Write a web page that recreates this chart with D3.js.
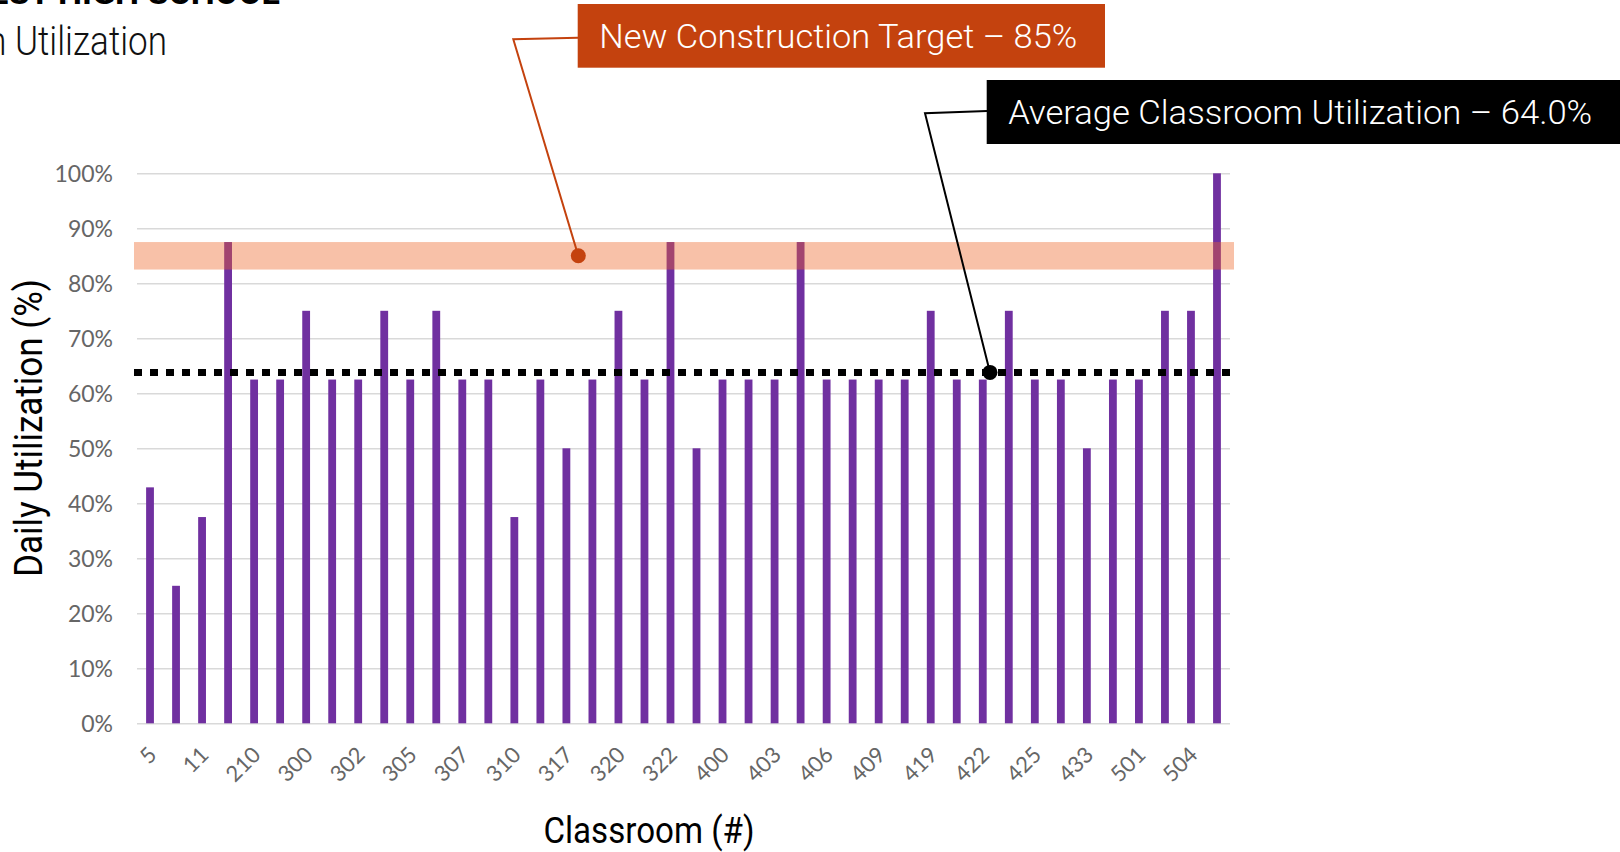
<!DOCTYPE html>
<html>
<head>
<meta charset="utf-8">
<script src="https://cdn.jsdelivr.net/npm/d3@7"></script>
<style>
  html, body { margin: 0; padding: 0; background: #fff; overflow: hidden; }
  svg { display: block; }
  .cond { font-family: Roboto, "DejaVu Sans Condensed", sans-serif; font-weight: 300; }
  .tick text { font-family: Lato, "Open Sans", sans-serif; font-weight: 400; fill: #666; }
</style>
</head>
<body>
<svg id="chart" width="1620" height="852"></svg>
<script>
// ---- data ----
// only every other classroom is labelled on the axis
const rooms = ["5", "", "11", "", "210", "", "300", "", "302", "", "305", "", "307", "", "310", "",
  "317", "", "320", "", "322", "", "400", "", "403", "", "406", "", "409", "", "419", "",
  "422", "", "425", "", "433", "", "501", "", "504", ""];
const utilization = [0.429, 0.25, 0.375, 0.875, 0.625, 0.625, 0.75, 0.625, 0.625, 0.75, 0.625, 0.75,
  0.625, 0.625, 0.375, 0.625, 0.5, 0.625, 0.75, 0.625, 0.875, 0.5, 0.625, 0.625, 0.625, 0.875,
  0.625, 0.625, 0.625, 0.625, 0.75, 0.625, 0.625, 0.75, 0.625, 0.625, 0.5, 0.625, 0.625, 0.75, 0.75, 1.0];
const yTicks = [0, 0.1, 0.2, 0.3, 0.4, 0.5, 0.6, 0.7, 0.8, 0.9, 1.0];
const targetBand = [0.825, 0.875];
const target = 0.85;
const average = 0.638;
const targetLabel = "New Construction Target – 85%";
const averageLabel = "Average Classroom Utilization – 64.0%";

// ---- layout ----
const W = 1620, H = 852;
const plot = { left: 137, right: 1230, top: 173.3, bottom: 723.3 };
const purple = "#7030a0";
const orange = "#c4420e";

const svg = d3.select("#chart");

const x = d3.scaleBand()
  .domain(d3.range(utilization.length))
  .range([plot.left, plot.right])
  .paddingInner(0.7)
  .paddingOuter(0.35);

const y = d3.scaleLinear().domain([0, 1]).range([plot.bottom, plot.top]);

// gridlines + y labels
const yAxis = svg.append("g")
  .attr("transform", `translate(${plot.left},0)`)
  .call(d3.axisLeft(y)
    .tickValues(yTicks)
    .tickFormat(d3.format(".0%"))
    .tickSize(-(plot.right - plot.left))
    .tickPadding(24));
yAxis.select(".domain").remove();
yAxis.selectAll(".tick line").attr("stroke", "#d9d9d9").attr("stroke-width", 1.5);
yAxis.selectAll(".tick text").attr("font-size", 23).attr("dy", "0.36em");

// x labels
const xAxis = svg.append("g")
  .attr("transform", `translate(0,${plot.bottom})`)
  .call(d3.axisBottom(x).tickSize(0).tickFormat(i => rooms[i]));
xAxis.select(".domain").remove();
xAxis.selectAll(".tick text")
  .attr("font-size", 22)
  .attr("text-anchor", "end")
  .attr("y", 0)
  .attr("dy", 0)
  .attr("transform", "translate(8,33) rotate(-45)");

// bars
svg.append("g")
  .selectAll("rect")
  .data(utilization)
  .join("rect")
  .attr("x", (d, i) => x(i))
  .attr("width", x.bandwidth())
  .attr("y", d => y(d))
  .attr("height", d => y(0) - y(d))
  .attr("fill", purple);

// target band
svg.append("rect")
  .attr("x", plot.left - 3)
  .attr("width", plot.right - plot.left + 7)
  .attr("y", y(targetBand[1]))
  .attr("height", y(targetBand[0]) - y(targetBand[1]))
  .attr("fill", "rgb(237,100,38)")
  .attr("fill-opacity", 0.4);

// average line
svg.append("line")
  .attr("x1", plot.left - 3)
  .attr("x2", plot.right + 2)
  .attr("y1", y(average))
  .attr("y2", y(average))
  .attr("stroke", "#000")
  .attr("stroke-width", 7)
  .attr("stroke-dasharray", "8,8");

// titles
svg.append("text").attr("class", "cond")
  .attr("x", 280).attr("y", 4)
  .attr("text-anchor", "end")
  .attr("font-size", 34)
  .style("font-weight", 700)
  .text("WEST HIGH SCHOOL");

const sub = svg.append("text").attr("class", "cond")
  .attr("x", 167).attr("y", 55)
  .attr("text-anchor", "end")
  .attr("font-size", 40).attr("fill", "#111")
  .text("Classroom Utilization");
// stretch so that "Utilization" spans the same width as in the original
{
  const n = sub.node();
  const full = n.getComputedTextLength();
  const tail = n.getSubStringLength(10, 11);
  n.setAttribute("textLength", full * (152 / tail));
  n.setAttribute("lengthAdjust", "spacingAndGlyphs");
}

svg.append("text").attr("class", "cond")
  .attr("transform", `translate(42,428) rotate(-90)`)
  .attr("text-anchor", "middle")
  .attr("font-size", 39)
  .style("font-weight", 400)
  .attr("textLength", 298)
  .attr("lengthAdjust", "spacingAndGlyphs")
  .text("Daily Utilization (%)");

svg.append("text").attr("class", "cond")
  .attr("x", 649).attr("y", 843)
  .attr("text-anchor", "middle")
  .attr("font-size", 36)
  .style("font-weight", 400)
  .attr("textLength", 211)
  .attr("lengthAdjust", "spacingAndGlyphs")
  .text("Classroom (#)");

// annotations: leader line, dot, label box
function callout(color, pts, dot, box, label, len) {
  svg.append("path")
    .attr("d", d3.line()(pts.concat([dot])))
    .attr("fill", "none")
    .attr("stroke", color)
    .attr("stroke-width", 2);
  svg.append("circle")
    .attr("cx", dot[0]).attr("cy", dot[1]).attr("r", 7.5)
    .attr("fill", color);
  svg.append("rect")
    .attr("x", box.x).attr("y", box.y)
    .attr("width", box.w).attr("height", box.h)
    .attr("fill", color);
  svg.append("text").attr("class", "cond")
    .attr("x", box.x + 21.5).attr("y", box.y + box.h / 2 + 12)
    .attr("font-size", 34)
    .attr("fill", "#fff")
    .attr("textLength", len)
    .attr("lengthAdjust", "spacingAndGlyphs")
    .text(label);
}

callout(orange, [[578, 37.7], [513.3, 39.3]], [578.3, y(target)],
  { x: 577.7, y: 4, w: 527.3, h: 63.7 }, targetLabel, 478);
callout("#000", [[987, 111], [925, 113.3]], [990, y(average)],
  { x: 986.7, y: 80, w: W - 986.7, h: 64 }, averageLabel, 584);
</script>
</body>
</html>
